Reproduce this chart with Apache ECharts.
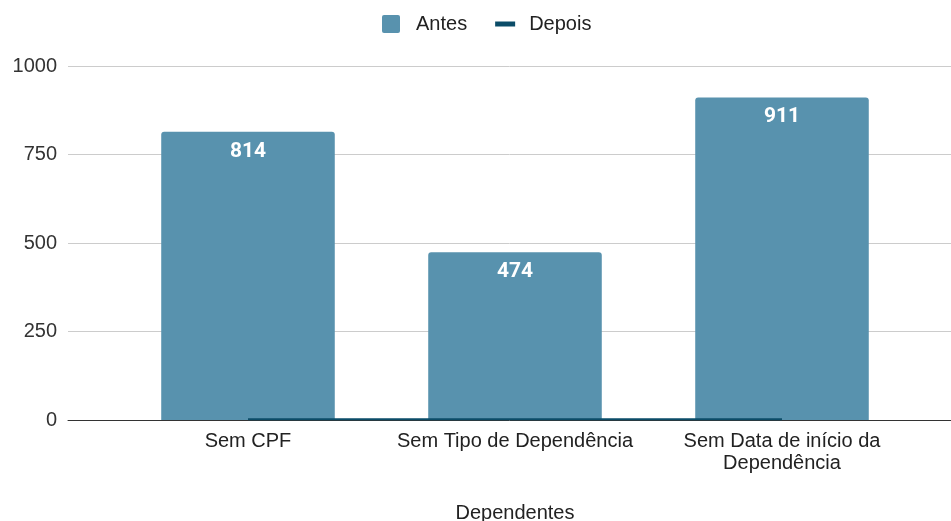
<!DOCTYPE html>
<html>
<head>
<meta charset="utf-8">
<script src="https://cdn.jsdelivr.net/npm/echarts@6/dist/echarts.min.js"></script>
<style>
  html, body { margin: 0; padding: 0; background: #fff; }
  #chart { width: 951px; height: 521px; }
</style>
</head>
<body>
<div id="chart"></div>
<script>
// dados
const categories = ['Sem CPF', 'Sem Tipo de Dependência', 'Sem Data de início da\nDependência']
const antes = [814, 474, 911]
const depois = [2, 2, 2]
const yTicks = [0, 250, 500, 750, 1000]

const labelFont = 'Arial, "Liberation Sans", sans-serif'

const mycharts = echarts.init(document.getElementById('chart'))
mycharts.setOption({
  animation: false,
  legend: {
    top: 9,
    left: 377,
    itemWidth: 20,
    itemHeight: 18,
    itemGap: 28,
    textStyle: {
      fontFamily: labelFont,
      fontSize: 20,
      color: '#222',
      padding: [0, 0, 0, 10],
    },
    data: [
      { name: 'Antes', icon: 'path://M2,0 h14 a2,2 0 0 1 2,2 v14 a2,2 0 0 1 -2,2 h-14 a2,2 0 0 1 -2,-2 v-14 a2,2 0 0 1 2,-2 z' },
      { name: 'Depois', icon: 'path://M0,0 h20 v5 h-20 z', textStyle: { padding: [0, 0, 0, 9] } },
    ],
  },
  grid: [
    // grade de fundo (linhas e eixo Y)
    { left: 68, right: 0, top: 66, bottom: 101, outerBoundsMode: 'none', containLabel: false },
    // grade das categorias
    { left: 114.5, right: 35.5, top: 66, bottom: 101, outerBoundsMode: 'none', containLabel: false },
  ],
  xAxis: [
    {
      gridIndex: 0,
      type: 'category',
      data: [''],
      axisLine: { show: true, lineStyle: { color: '#333', width: 1 } },
      axisTick: { show: false },
      axisLabel: { show: false },
    },
    {
      gridIndex: 1,
      type: 'category',
      data: categories,
      axisLine: { show: false },
      axisTick: { show: false },
      axisLabel: {
        interval: 0,
        margin: 10,
        fontFamily: labelFont,
        fontSize: 20,
        lineHeight: 22,
        color: '#222',
      },
      name: 'Dependentes',
      nameLocation: 'middle',
      nameGap: 83,
      nameTextStyle: { fontFamily: labelFont, fontSize: 20, color: '#222' },
    },
  ],
  yAxis: [
    {
      gridIndex: 0,
      type: 'value',
      min: yTicks[0],
      max: yTicks[yTicks.length - 1],
      interval: 250,
      axisLine: { show: false },
      axisTick: { show: false },
      axisLabel: {
        margin: 11,
        fontFamily: labelFont,
        fontSize: 20,
        color: '#333',
        formatter: (v) => String(v),
      },
      splitLine: { lineStyle: { color: '#cccccc', width: 1 } },
    },
    {
      gridIndex: 1,
      type: 'value',
      min: yTicks[0],
      max: yTicks[yTicks.length - 1],
      interval: 250,
      show: false,
    },
  ],
  series: [
    {
      type: 'bar',
      name: 'Antes',
      data: antes,
      xAxisIndex: 1,
      yAxisIndex: 1,
      barWidth: '65%',
      itemStyle: { color: '#5892ae', borderRadius: [3, 3, 0, 0] },
      label: {
        show: true,
        position: 'insideTop',
        distance: 9,
        color: '#fff',
        fontWeight: 'bold',
        fontFamily: 'Roboto, sans-serif',
        fontSize: 21,
      },
    },
    {
      type: 'line',
      name: 'Depois',
      data: depois,
      xAxisIndex: 1,
      yAxisIndex: 1,
      symbol: 'none',
      z: 5,
      itemStyle: { color: '#0b4c68' },
      lineStyle: { color: '#0b4c68', width: 2 },
    },
  ],
})
</script>
</body>
</html>
